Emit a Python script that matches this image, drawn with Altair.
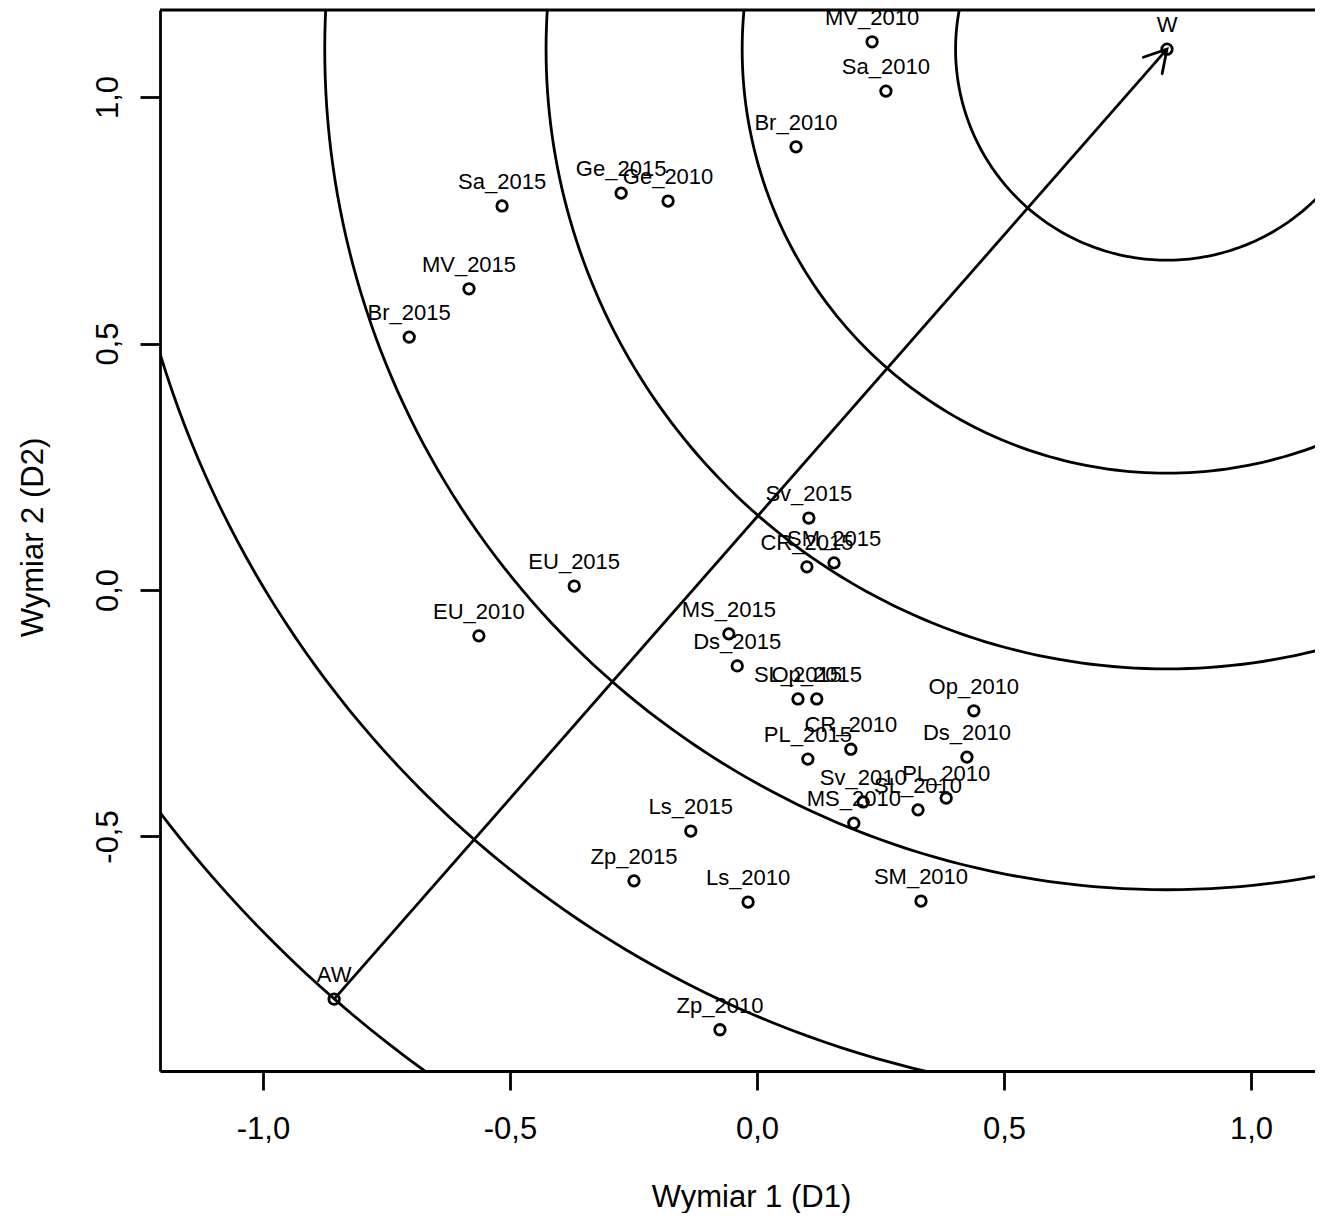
import math
import altair as alt
import pandas as pd

# ---- data ----
NAMES = ["W", "AW", "MV_2010", "Sa_2010", "Br_2010", "Ge_2015", "Ge_2010",
         "Sa_2015", "MV_2015", "Br_2015", "Sv_2015", "CR_2015", "SM_2015",
         "EU_2015", "EU_2010", "MS_2015", "Ds_2015", "SL_2015", "Op_2015",
         "Op_2010", "Ds_2010", "CR_2010", "PL_2015", "Sv_2010", "PL_2010",
         "SL_2010", "MS_2010", "Ls_2015", "Zp_2015", "Ls_2010", "SM_2010",
         "Zp_2010"]
D1 = [0.830, -0.856, 0.233, 0.261, 0.079, -0.275, -0.180,
      -0.516, -0.583, -0.704, 0.105, 0.101, 0.156,
      -0.370, -0.563, -0.057, -0.040, 0.083, 0.121,
      0.439, 0.425, 0.190, 0.103, 0.215, 0.383,
      0.326, 0.196, -0.134, -0.249, -0.018, 0.332,
      -0.075]
D2 = [1.097, -0.830, 1.112, 1.012, 0.899, 0.805, 0.789,
      0.779, 0.611, 0.513, 0.146, 0.047, 0.055,
      0.008, -0.093, -0.089, -0.154, -0.221, -0.221,
      -0.245, -0.339, -0.323, -0.343, -0.430, -0.422,
      -0.446, -0.473, -0.489, -0.590, -0.633, -0.631,
      -0.892]
RADII = [0.428, 0.860, 1.257, 1.705, 2.130, 2.560]
X_TICKS = [-1.0, -0.5, 0.0, 0.5, 1.0]
Y_TICKS = [-0.5, 0.0, 0.5, 1.0]
X_DOMAIN = [-1.2085, 1.1296]
Y_DOMAIN = [-0.9757, 1.1765]

W_X, W_Y = D1[0], D2[0]
AW_X, AW_Y = D1[1], D2[1]

FONT = "Liberation Sans, Arial, sans-serif"
PW, PH = 1155, 1061
LW = 2.8

pts = pd.DataFrame({"name": NAMES, "d1": D1, "d2": D2})
rings = pd.DataFrame({"r": RADII})
arrow = pd.DataFrame({"d1": [AW_X], "d2": [AW_Y], "d1e": [W_X], "d2e": [W_Y]})
tip = pd.DataFrame({"d1": [W_X], "d2": [W_Y]})
border = pd.DataFrame({"a": [0]})

label_expr = "(datum.value < 0 ? '-' : '') + replace(format(abs(datum.value), '.1f'), '.', ',')"

X = alt.X("d1:Q",
          scale=alt.Scale(domain=X_DOMAIN, nice=False, zero=False),
          axis=alt.Axis(values=X_TICKS, title="Wymiar 1 (D1)", grid=False,
                        domain=True, domainColor="black", domainWidth=LW,
                        ticks=True, tickSize=19, tickWidth=LW, tickColor="black",
                        labelFont=FONT, labelFontSize=31, labelColor="black",
                        labelBaseline="alphabetic", labelAlign="center",
                        labelPadding=48, labelExpr=label_expr,
                        labelFlush=False, labelOverlap=False,
                        titleFont=FONT, titleFontSize=31, titleFontWeight="normal",
                        titleColor="black", titleX=591, titleY=135,
                        titleBaseline="alphabetic", titleAlign="center"))
Y = alt.Y("d2:Q",
          scale=alt.Scale(domain=Y_DOMAIN, nice=False, zero=False),
          axis=alt.Axis(values=Y_TICKS, title="Wymiar 2 (D2)", grid=False,
                        domain=True, domainColor="black", domainWidth=LW,
                        ticks=True, tickSize=20, tickWidth=LW, tickColor="black",
                        labelFont=FONT, labelFontSize=31, labelColor="black",
                        labelAngle=270, labelAlign="center",
                        labelBaseline="alphabetic", labelPadding=23,
                        labelExpr=label_expr, labelFlush=False, labelOverlap=False,
                        titleFont=FONT, titleFontSize=31, titleFontWeight="normal",
                        titleColor="black", titleAngle=270, titleX=-118,
                        titleY=527, titleBaseline="alphabetic", titleAlign="center"))

circles = alt.Chart(rings).transform_calculate(
    ang="sequence(0, 361, 1)"
).transform_flatten(["ang"]).transform_calculate(
    d1=f"{W_X} + datum.r * cos(datum.ang * PI / 180)",
    d2=f"{W_Y} + datum.r * sin(datum.ang * PI / 180)",
).mark_line(clip=True, color="black", strokeWidth=LW).encode(
    x=X, y=Y, detail="r:N", order="ang:Q"
)

shaft = alt.Chart(arrow).mark_rule(color="black", strokeWidth=LW).encode(
    x="d1:Q", y="d2:Q", x2="d1e:Q", y2="d2e:Q"
)

ang = math.degrees(math.atan2(W_X - AW_X, W_Y - AW_Y))
head = alt.Chart(tip).mark_point(
    shape="M -0.5 0.866 L 0 0 L 0.5 0.866", filled=False, size=2500,
    angle=ang, color="black", strokeWidth=LW, strokeCap="round", opacity=1
).encode(x="d1:Q", y="d2:Q")

points = alt.Chart(pts).mark_point(
    shape="circle", filled=False, size=110, color="black", strokeWidth=LW, opacity=1
).encode(x="d1:Q", y="d2:Q")

labels = alt.Chart(pts).mark_text(
    font=FONT, fontSize=22, color="black", align="center",
    baseline="alphabetic", dy=-17
).encode(x="d1:Q", y="d2:Q", text="name:N")

top_border = alt.Chart(border).mark_rule(color="black", strokeWidth=LW).encode(
    x=alt.value(0), x2=alt.value(PW), y=alt.value(0)
)

chart = alt.layer(circles, shaft, head, points, labels, top_border).properties(
    width=PW, height=PH,
    autosize=alt.AutoSizeParams(type="none"),
    padding={"left": 152, "top": 2, "right": 0, "bottom": 142},
).configure_view(stroke=None).configure(background="white")

chart.save("out.html", embed_options={"renderer": "svg", "actions": False})
